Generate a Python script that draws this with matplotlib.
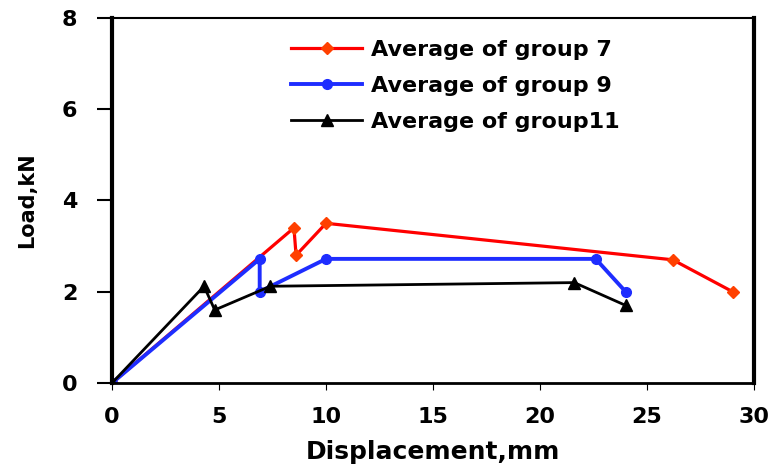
import matplotlib.pyplot as plt

# ── Data ──
g7_x = [0, 8.5, 8.6, 10.0, 26.2, 29.0]
g7_y = [0, 3.4, 2.8, 3.5, 2.7, 2.0]

g9_x = [0, 6.9, 6.9, 10.0, 22.6, 24.0]
g9_y = [0, 2.72, 2.0, 2.72, 2.72, 2.0]

g11_x = [0, 4.3, 4.8, 7.4, 21.6, 24.0]
g11_y = [0, 2.12, 1.6, 2.12, 2.2, 1.7]

labels = ["Average of group 7", "Average of group 9", "Average of group11"]

plt.rcParams["font.family"] = ["DejaVu Sans"]
plt.rcParams["font.weight"] = "bold"

fig = plt.figure(figsize=(7.79, 4.72), dpi=100)
ax = fig.add_axes([0.1438, 0.1886, 0.8242, 0.7733])

ax.plot(g7_x, g7_y, color="#ff0000", lw=2.3, marker="D", ms=6.5,
        mfc="#ff4000", mec="#ff4000", label=labels[0])
ax.plot(g9_x, g9_y, color="#1e2dff", lw=2.8, marker="o", ms=7,
        mfc="#1e2dff", mec="#1e2dff", label=labels[1])
ax.plot(g11_x, g11_y, color="black", lw=2.0, marker="^", ms=9,
        label=labels[2])

ax.set_xlim(0, 30)
ax.set_ylim(0, 8)
ax.set_xticks([0, 5, 10, 15, 20, 25, 30])
ax.set_yticks([0, 2, 4, 6, 8])

ax.spines["left"].set_linewidth(3)
ax.spines["right"].set_linewidth(3)
ax.spines["bottom"].set_linewidth(2)
ax.spines["top"].set_linewidth(1.5)

ax.tick_params(axis="y", length=11, width=1.5, pad=14, labelsize=16)
ax.tick_params(axis="x", length=5, width=0.8, pad=12, labelsize=16)
for lab in ax.get_xticklabels() + ax.get_yticklabels():
    lab.set_fontweight("bold")

ax.set_xlabel("Displacement,mm", fontsize=18, fontweight="bold", labelpad=10)
ax.set_ylabel("Load,kN", fontsize=15, fontweight="bold", labelpad=18)

leg = ax.legend(loc="upper left", bbox_to_anchor=(0.262, 0.97),
                frameon=False, fontsize=16, handlelength=3.2,
                labelspacing=0.72, borderpad=0, handletextpad=0.4)
for t in leg.get_texts():
    t.set_fontweight("bold")

fig.savefig("out.png", dpi=100)
